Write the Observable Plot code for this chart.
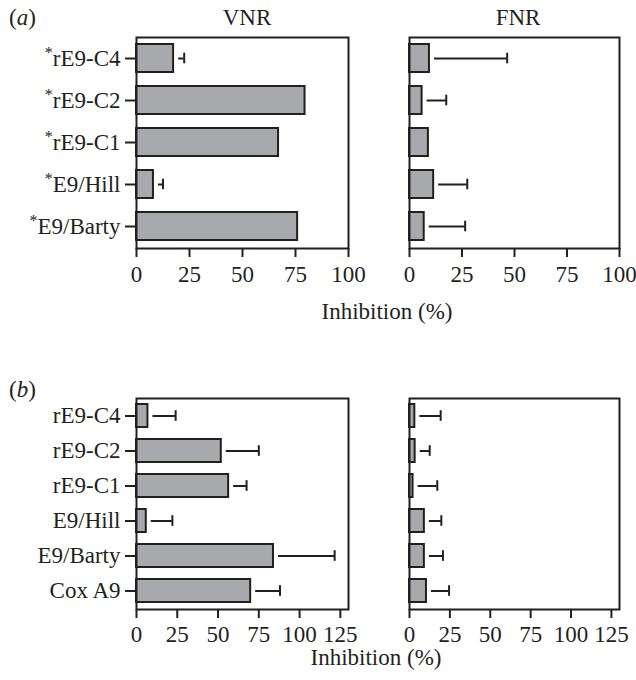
<!DOCTYPE html>
<html><head><meta charset="utf-8">
<script src="https://cdn.jsdelivr.net/npm/d3@7"></script>
<script src="https://cdn.jsdelivr.net/npm/@observablehq/plot@0.6"></script>
<style>
body{margin:0;background:#fff;}
#fig{position:relative;width:636px;height:680px;font-family:"Liberation Serif",serif;color:#231f20;background:#fff;}
.lbl{position:absolute;font-size:23px;line-height:23px;white-space:nowrap;}
.c{transform:translateX(-50%);}
.panel{position:absolute;}
</style></head><body>
<div id="fig">
  <div class="lbl" style="left:9px;top:6px">(<i>a</i>)</div>
  <div class="lbl c" style="left:247px;top:6px">VNR</div>
  <div class="lbl c" style="left:518px;top:6px">FNR</div>
  <div class="lbl c" style="left:387px;top:300px">Inhibition (%)</div>
  <div class="lbl" style="left:9px;top:378px">(<i>b</i>)</div>
  <div class="lbl c" style="left:376px;top:646px">Inhibition (%)</div>
</div>
<script>
// ---- data ----
const catsA = ["rE9-C4", "rE9-C2", "rE9-C1", "E9/Hill", "E9/Barty"];
const vnrA = [17.5, 79.5, 67, 8, 76];
const vnrAErr = [5, null, null, 4.5, null];
const fnrA = [9.5, 6, 9, 11.5, 7];
const fnrAErr = [37, 11.5, null, 16, 19.5];

const catsB = ["rE9-C4", "rE9-C2", "rE9-C1", "E9/Hill", "E9/Barty", "Cox A9"];
const vnrB = [7, 52, 56.5, 6, 84, 70];
const vnrBErr = [17, 23, 11, 16, 37.5, 18];
const fnrB = [3.3, 3.5, 2.2, 9.2, 9.2, 10.5];
const fnrBErr = [16, 9, 15, 10.5, 11.5, 14];

const ticksA = [0, 25, 50, 75, 100];
const ticksB = [0, 25, 50, 75, 100, 125];

const fig = document.getElementById("fig");

function panel({cats, vals, errs, xmax, ticks, showY, star, left, top, width, height, mL, mR, mT, mB, capInset, pad}) {
  const data = cats.map((c, i) => ({c, v: vals[i], e: errs[i]}));
  const withErr = data.filter(d => d.e != null);
  const marks = [
    Plot.ruleY(withErr, {y: "c", x1: "v", x2: d => d.v + d.e, insetLeft: 5, stroke: "#231f20", strokeWidth: 2}),
    Plot.tickX(withErr, {y: "c", x: d => d.v + d.e, insetTop: capInset, insetBottom: capInset, stroke: "#231f20", strokeWidth: 2}),
    Plot.barX(data, {y: "c", x: "v", fill: "#a8a9ad", stroke: "#231f20", strokeWidth: 2}),
    Plot.frame({stroke: "#231f20", strokeWidth: 2}),
    Plot.axisX({ticks, tickSize: 9, tickPadding: pad, fontSize: 23, label: null, strokeWidth: 2, stroke: "#231f20"})
  ];
  if (showY) marks.push(Plot.axisY({tickSize: 11, tickPadding: 5, fontSize: 23, label: null, strokeWidth: 2, stroke: "#231f20",
    tickFormat: d => star ? "*" + d : d}));
  const svg = Plot.plot({
    width, height, marginLeft: mL, marginRight: mR, marginTop: mT, marginBottom: mB,
    style: {fontFamily: "Liberation Serif", fontSize: "23px", color: "#231f20", background: "transparent"},
    x: {domain: [0, xmax], axis: null},
    y: {domain: cats, paddingInner: 0.33, paddingOuter: 0.15, axis: null},
    marks
  });
  // superscript asterisks
  d3.select(svg).selectAll("text").each(function() {
    const t = this.textContent;
    if (t.startsWith("*")) {
      const el = d3.select(this);
      el.text(null);
      el.append("tspan").attr("font-size", 16).attr("dy", -8).text("*");
      el.append("tspan").attr("dy", 8).text(t.slice(1));
    }
  });
  const wrap = document.createElement("div");
  wrap.className = "panel";
  wrap.style.left = left + "px";
  wrap.style.top = top + "px";
  wrap.appendChild(svg);
  fig.appendChild(wrap);
}

panel({cats: catsA, vals: vnrA, errs: vnrAErr, xmax: 100, ticks: ticksA, showY: true, star: true,
  left: 0, top: 30, width: 370, height: 262, mL: 136, mR: 22, mT: 7, mB: 44, capInset: 8.7, pad: 8});
panel({cats: catsA, vals: fnrA, errs: fnrAErr, xmax: 100, ticks: ticksA, showY: false, star: false,
  left: 370, top: 30, width: 266, height: 262, mL: 39, mR: 17, mT: 7, mB: 44, capInset: 8.7, pad: 8});
panel({cats: catsB, vals: vnrB, errs: vnrBErr, xmax: 130, ticks: ticksB, showY: true, star: false,
  left: 0, top: 390, width: 370, height: 256, mL: 136, mR: 22, mT: 8, mB: 37, capInset: 6.2, pad: 7});
panel({cats: catsB, vals: fnrB, errs: fnrBErr, xmax: 130, ticks: ticksB, showY: false, star: false,
  left: 370, top: 390, width: 266, height: 256, mL: 39, mR: 17, mT: 8, mB: 37, capInset: 6.2, pad: 7});
</script>
</body></html>
